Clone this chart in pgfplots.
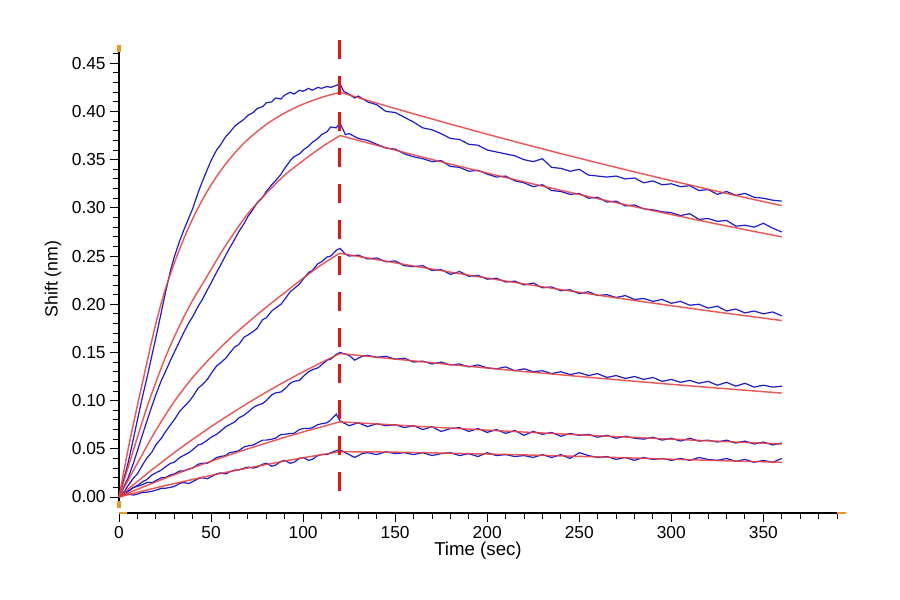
\documentclass[border=0pt]{standalone}
\usepackage{pgfplots}
\pgfplotsset{compat=1.18}
\usepackage{fontspec}
\setmainfont{Liberation Sans}
\definecolor{bli}{RGB}{28,28,212}
\definecolor{fit}{RGB}{232,60,60}
\definecolor{dsh}{RGB}{228,20,20}
\definecolor{orn}{RGB}{236,150,40}
\begin{document}
\begin{tikzpicture}
\useasboundingbox (-89.25pt,-65.25pt) rectangle (585.75pt,384.75pt);
\begin{axis}[
 at={(0,0)}, anchor=south west,
 scale only axis, width=538.5pt, height=351pt,
 xmin=0, xmax=390, ymin=-0.0166, ymax=0.469,
 clip=false,
 axis x line*=bottom, axis y line*=left,
 axis line style={black, line width=0.8pt, -},
 y axis line style={shorten <=3.75pt},
 tick align=outside, tick style={black, line width=0.7pt},
 major tick length=6.5pt, minor tick length=4.5pt,
 xtick={0,50,...,350}, minor xtick={0,10,...,390},
 ytick={0,0.05,0.10,0.15,0.20,0.25,0.30,0.35,0.40,0.45},
 minor ytick={0.01,0.02,0.03,0.04,0.06,0.07,0.08,0.09,0.11,0.12,0.13,0.14,0.16,0.17,0.18,0.19,0.21,0.22,0.23,0.24,0.26,0.27,0.28,0.29,0.31,0.32,0.33,0.34,0.36,0.37,0.38,0.39,0.41,0.42,0.43,0.44,0.46},
 scaled y ticks=false,
 /pgf/number format/assume math mode=true,
 ticklabel style={font=\fontsize{13}{15}\selectfont},
 yticklabel style={/pgf/number format/fixed, /pgf/number format/fixed zerofill, /pgf/number format/precision=2},
 xlabel={Time (sec)},
 xlabel style={font=\fontsize{14}{16}\selectfont, at={(axis description cs:0.5,-0.0812)}, anchor=center},
 ylabel={Shift (nm)},
 ylabel style={font=\fontsize{13.3}{15}\selectfont, at={(axis description cs:-0.0919,0.5)}, anchor=center},
]
% blue measured traces
\addplot[bli, line width=0.9pt] coordinates {(0,0.000) (2,0.014) (5,0.036) (8,0.062) (10,0.080) (13,0.106) (15,0.122) (18,0.148) (20,0.165) (23,0.192) (25,0.210) (28,0.235) (30,0.249) (33,0.266) (35,0.276) (38,0.290) (40,0.299) (43,0.316) (45,0.326) (48,0.340) (50,0.349) (53,0.360) (55,0.365) (58,0.374) (60,0.378) (63,0.385) (65,0.388) (68,0.392) (70,0.396) (73,0.399) (75,0.403) (78,0.405) (80,0.409) (83,0.410) (85,0.414) (88,0.413) (90,0.417) (93,0.420) (95,0.418) (98,0.422) (100,0.421) (103,0.424) (105,0.422) (108,0.425) (110,0.424) (113,0.426) (115,0.425) (118,0.427) (120,0.429) (122,0.421) (125,0.418) (128,0.414) (130,0.416) (135,0.410) (140,0.407) (145,0.400) (150,0.399) (155,0.394) (160,0.389) (165,0.383) (170,0.381) (175,0.377) (180,0.372) (185,0.371) (190,0.366) (195,0.365) (200,0.360) (205,0.358) (210,0.356) (215,0.354) (220,0.350) (225,0.348) (230,0.351) (235,0.342) (240,0.341) (245,0.338) (250,0.340) (255,0.334) (260,0.333) (265,0.332) (270,0.333) (275,0.330) (280,0.331) (285,0.326) (290,0.328) (295,0.324) (300,0.325) (305,0.322) (310,0.323) (315,0.318) (320,0.319) (325,0.314) (330,0.317) (335,0.313) (340,0.315) (345,0.311) (350,0.310) (355,0.308) (360,0.307)};
\addplot[bli, line width=0.9pt] coordinates {(0,0) (3,0.012) (5,0.020) (8,0.036) (10,0.048) (13,0.066) (15,0.078) (18,0.095) (20,0.106) (23,0.121) (25,0.129) (28,0.142) (30,0.150) (33,0.162) (35,0.170) (38,0.181) (40,0.187) (43,0.198) (45,0.204) (48,0.215) (50,0.222) (53,0.233) (55,0.240) (58,0.251) (60,0.258) (63,0.268) (65,0.275) (68,0.284) (70,0.291) (73,0.299) (75,0.305) (78,0.311) (80,0.317) (83,0.324) (85,0.328) (88,0.335) (90,0.341) (93,0.349) (95,0.353) (98,0.356) (100,0.360) (103,0.364) (105,0.368) (108,0.372) (110,0.376) (113,0.379) (115,0.384) (118,0.383) (120,0.388) (123,0.376) (125,0.377) (130,0.372) (135,0.370) (140,0.366) (145,0.362) (150,0.361) (155,0.356) (160,0.353) (165,0.351) (170,0.348) (175,0.349) (180,0.343) (185,0.342) (190,0.338) (195,0.339) (200,0.335) (205,0.332) (210,0.333) (215,0.328) (220,0.326) (225,0.322) (230,0.324) (235,0.318) (240,0.317) (245,0.314) (250,0.315) (255,0.310) (260,0.311) (265,0.306) (270,0.307) (275,0.302) (280,0.303) (285,0.299) (290,0.298) (295,0.296) (300,0.295) (305,0.292) (310,0.294) (315,0.288) (320,0.289) (325,0.286) (330,0.287) (335,0.281) (340,0.282) (345,0.280) (350,0.284) (355,0.279) (360,0.275)};
\addplot[bli, line width=0.9pt] coordinates {(0,0) (3,0.006) (5,0.012) (8,0.020) (10,0.024) (13,0.034) (15,0.040) (18,0.047) (20,0.054) (23,0.061) (25,0.067) (28,0.075) (30,0.080) (33,0.089) (35,0.093) (38,0.099) (40,0.104) (43,0.113) (45,0.116) (48,0.122) (50,0.128) (53,0.136) (55,0.139) (58,0.144) (60,0.149) (63,0.156) (65,0.158) (68,0.166) (70,0.168) (73,0.172) (75,0.175) (78,0.184) (80,0.186) (83,0.193) (85,0.196) (88,0.200) (90,0.205) (93,0.213) (95,0.216) (98,0.221) (100,0.226) (103,0.233) (105,0.235) (108,0.242) (110,0.244) (113,0.249) (115,0.250) (118,0.256) (120,0.258) (123,0.252) (125,0.250) (130,0.251) (135,0.247) (140,0.248) (145,0.244) (150,0.245) (155,0.240) (160,0.239) (165,0.240) (170,0.235) (175,0.236) (180,0.231) (185,0.234) (190,0.229) (195,0.230) (200,0.226) (205,0.227) (210,0.223) (215,0.224) (220,0.220) (225,0.222) (230,0.217) (235,0.218) (240,0.214) (245,0.215) (250,0.211) (255,0.213) (260,0.209) (265,0.210) (270,0.207) (275,0.209) (280,0.205) (285,0.206) (290,0.203) (295,0.205) (300,0.201) (305,0.203) (310,0.199) (315,0.200) (320,0.196) (325,0.198) (330,0.193) (335,0.195) (340,0.191) (345,0.193) (350,0.190) (355,0.192) (360,0.188)};
\addplot[bli, line width=0.9pt] coordinates {(0,0) (3,0.004) (5,0.006) (8,0.010) (10,0.012) (13,0.016) (15,0.018) (18,0.023) (20,0.025) (23,0.028) (25,0.031) (28,0.035) (30,0.036) (33,0.041) (35,0.043) (38,0.046) (40,0.049) (43,0.054) (45,0.055) (48,0.059) (50,0.062) (53,0.065) (55,0.068) (58,0.073) (60,0.075) (63,0.078) (65,0.082) (68,0.085) (70,0.088) (73,0.093) (75,0.095) (78,0.097) (80,0.100) (83,0.106) (85,0.108) (88,0.109) (90,0.112) (93,0.118) (95,0.120) (98,0.121) (100,0.125) (103,0.130) (105,0.132) (108,0.134) (110,0.137) (113,0.142) (115,0.143) (118,0.148) (120,0.150) (125,0.147) (128,0.142) (132,0.146) (135,0.147) (140,0.145) (145,0.146) (150,0.143) (155,0.144) (160,0.140) (165,0.141) (170,0.138) (175,0.140) (180,0.137) (185,0.138) (190,0.135) (195,0.137) (200,0.134) (205,0.133) (210,0.135) (215,0.131) (220,0.133) (225,0.130) (230,0.131) (235,0.128) (240,0.130) (245,0.127) (250,0.129) (255,0.126) (260,0.128) (265,0.124) (270,0.126) (275,0.123) (280,0.125) (285,0.122) (290,0.124) (295,0.120) (300,0.122) (305,0.119) (310,0.121) (315,0.118) (320,0.120) (325,0.116) (330,0.119) (335,0.115) (340,0.118) (345,0.114) (350,0.116) (355,0.114) (360,0.115)};
\addplot[bli, line width=0.9pt] coordinates {(0,0) (3,0.004) (5,0.006) (8,0.010) (10,0.011) (13,0.013) (15,0.015) (18,0.015) (20,0.017) (23,0.020) (25,0.020) (28,0.023) (30,0.024) (33,0.027) (35,0.027) (38,0.029) (40,0.030) (43,0.034) (45,0.035) (48,0.035) (50,0.037) (53,0.041) (55,0.042) (58,0.043) (60,0.046) (63,0.047) (65,0.048) (68,0.052) (70,0.053) (73,0.054) (75,0.056) (78,0.059) (80,0.059) (83,0.060) (85,0.061) (88,0.065) (90,0.065) (93,0.066) (95,0.066) (98,0.070) (100,0.071) (103,0.071) (105,0.072) (108,0.075) (110,0.076) (113,0.077) (115,0.080) (117,0.084) (118,0.086) (120,0.079) (125,0.074) (130,0.077) (135,0.073) (140,0.076) (145,0.074) (150,0.075) (155,0.072) (160,0.074) (165,0.070) (170,0.073) (175,0.068) (180,0.071) (185,0.072) (190,0.068) (195,0.071) (200,0.067) (205,0.070) (210,0.066) (215,0.069) (220,0.064) (225,0.068) (230,0.065) (235,0.067) (240,0.063) (245,0.066) (250,0.064) (255,0.065) (260,0.062) (265,0.064) (270,0.061) (275,0.063) (280,0.061) (285,0.060) (290,0.062) (295,0.059) (300,0.061) (305,0.058) (310,0.061) (315,0.058) (320,0.059) (325,0.057) (330,0.059) (335,0.056) (340,0.058) (345,0.055) (350,0.057) (355,0.054) (360,0.056)};
\addplot[bli, line width=0.9pt] coordinates {(0,0) (3,0.002) (5,0.003) (8,0.002) (10,0.003) (13,0.005) (15,0.005) (18,0.006) (20,0.007) (23,0.009) (25,0.009) (28,0.010) (30,0.011) (33,0.014) (35,0.015) (38,0.014) (40,0.016) (43,0.019) (45,0.020) (48,0.019) (50,0.021) (53,0.024) (55,0.025) (58,0.024) (60,0.026) (63,0.028) (65,0.028) (68,0.030) (70,0.031) (73,0.030) (75,0.031) (78,0.034) (80,0.035) (83,0.032) (85,0.033) (88,0.037) (90,0.038) (93,0.035) (95,0.036) (98,0.040) (100,0.041) (103,0.038) (105,0.039) (108,0.043) (110,0.044) (113,0.044) (115,0.046) (118,0.048) (120,0.049) (125,0.044) (128,0.041) (132,0.045) (135,0.046) (140,0.044) (145,0.047) (150,0.045) (155,0.046) (160,0.044) (165,0.046) (170,0.043) (175,0.045) (180,0.046) (185,0.043) (190,0.045) (195,0.042) (200,0.046) (205,0.043) (210,0.044) (215,0.042) (220,0.043) (225,0.041) (230,0.044) (235,0.041) (240,0.044) (245,0.040) (250,0.046) (255,0.043) (260,0.041) (265,0.042) (270,0.039) (275,0.041) (280,0.038) (285,0.041) (290,0.039) (295,0.040) (300,0.038) (305,0.040) (310,0.038) (315,0.041) (320,0.039) (325,0.038) (330,0.040) (335,0.037) (340,0.039) (345,0.036) (350,0.038) (355,0.036) (360,0.040)};
% red fitted curves: association
\addplot[fit, line width=1.1pt, opacity=0.85, smooth] coordinates {(0,0) (5,0.050) (10,0.095) (15,0.138) (20,0.1800) (25,0.2145) (30,0.2426) (35,0.2671) (40,0.2886) (45,0.3073) (50,0.3237) (55,0.3380) (60,0.3505) (65,0.3614) (70,0.3710) (80,0.3866) (90,0.3985) (100,0.4076) (110,0.4146) (120,0.4199)};
\addplot[fit, line width=1.1pt, opacity=0.85, smooth] coordinates {(0,0) (5,0.031) (10,0.062) (15,0.092) (20,0.119) (25,0.144) (30,0.166) (35,0.186) (40,0.204) (45,0.220) (50,0.236) (55,0.252) (60,0.267) (70,0.294) (80,0.315) (90,0.334) (100,0.349) (110,0.363) (120,0.375)};
\addplot[fit, line width=1.1pt, opacity=0.85, smooth] coordinates {(0,0) (10,0.035) (20,0.069) (30,0.099) (40,0.124) (50,0.145) (60,0.164) (70,0.181) (80,0.197) (90,0.212) (100,0.227) (110,0.241) (120,0.253)};
\addplot[fit, line width=1.1pt, opacity=0.85, smooth] coordinates {(0,0) (10,0.0161) (20,0.0314) (30,0.0460) (40,0.0598) (50,0.0730) (60,0.0855) (70,0.0974) (80,0.1088) (90,0.1196) (100,0.1299) (110,0.1396) (120,0.1489)};
\addplot[fit, line width=1.1pt, opacity=0.85, smooth] coordinates {(0,0) (10,0.0080) (20,0.0157) (30,0.0231) (40,0.0303) (50,0.0371) (60,0.0437) (70,0.0500) (80,0.0560) (90,0.0619) (100,0.0675) (110,0.0728) (120,0.0780)};
\addplot[fit, line width=1.1pt, opacity=0.85, smooth] coordinates {(0,0) (10,0.0048) (20,0.0095) (30,0.0139) (40,0.0182) (50,0.0224) (60,0.0263) (70,0.0301) (80,0.0338) (90,0.0373) (100,0.0407) (110,0.0439) (120,0.0470)};
% red fitted curves: dissociation
\addplot[fit, line width=1.1pt, opacity=0.85] coordinates {(120,0.4200) (140,0.4087) (160,0.3976) (180,0.3869) (200,0.3764) (220,0.3662) (240,0.3563) (260,0.3467) (280,0.3373) (300,0.3282) (320,0.3193) (340,0.3107) (360,0.3023)};
\addplot[fit, line width=1.1pt, opacity=0.85] coordinates {(120,0.3751) (140,0.3649) (160,0.3550) (180,0.3454) (200,0.3361) (220,0.3270) (240,0.3182) (260,0.3096) (280,0.3012) (300,0.2931) (320,0.2851) (340,0.2774) (360,0.2699)};
\addplot[fit, line width=1.1pt, opacity=0.85] coordinates {(120,0.2529) (140,0.2463) (160,0.2397) (180,0.2333) (200,0.2271) (220,0.2211) (240,0.2152) (260,0.2095) (280,0.2039) (300,0.1985) (320,0.1932) (340,0.1881) (360,0.1831)};
\addplot[fit, line width=1.1pt, opacity=0.85] coordinates {(120,0.1489) (140,0.1450) (160,0.1412) (180,0.1374) (200,0.1338) (220,0.1302) (240,0.1268) (260,0.1234) (280,0.1201) (300,0.1169) (320,0.1138) (340,0.1108) (360,0.1078)};
\addplot[fit, line width=1.1pt, opacity=0.85] coordinates {(120,0.0780) (140,0.0758) (160,0.0736) (180,0.0715) (200,0.0694) (220,0.0674) (240,0.0655) (260,0.0636) (280,0.0618) (300,0.0600) (320,0.0583) (340,0.0566) (360,0.0550)};
\addplot[fit, line width=1.1pt, opacity=0.85] coordinates {(120,0.0470) (140,0.0468) (160,0.0462) (180,0.0454) (200,0.0446) (220,0.0437) (240,0.0427) (260,0.0416) (280,0.0404) (300,0.0392) (320,0.0381) (340,0.0370) (360,0.0360)};
% step boundary
\addplot[dsh, line width=2.2pt, dash pattern=on 14pt off 13pt] coordinates {(120,0.474) (120,-0.002)};
% orange axis end caps
\draw[orn, line width=2.4pt] (rel axis cs:0,1) -- ++(0pt,-5pt);
\draw[orn, line width=2.4pt] ([yshift=3.75pt]rel axis cs:0,0) -- ++(0pt,5pt);
\draw[orn, line width=2pt] (rel axis cs:0,0) -- ++(6pt,0pt);
\draw[orn, line width=2pt] (rel axis cs:1,0) -- ++(6.5pt,0pt);
\end{axis}
\end{tikzpicture}
\end{document}
